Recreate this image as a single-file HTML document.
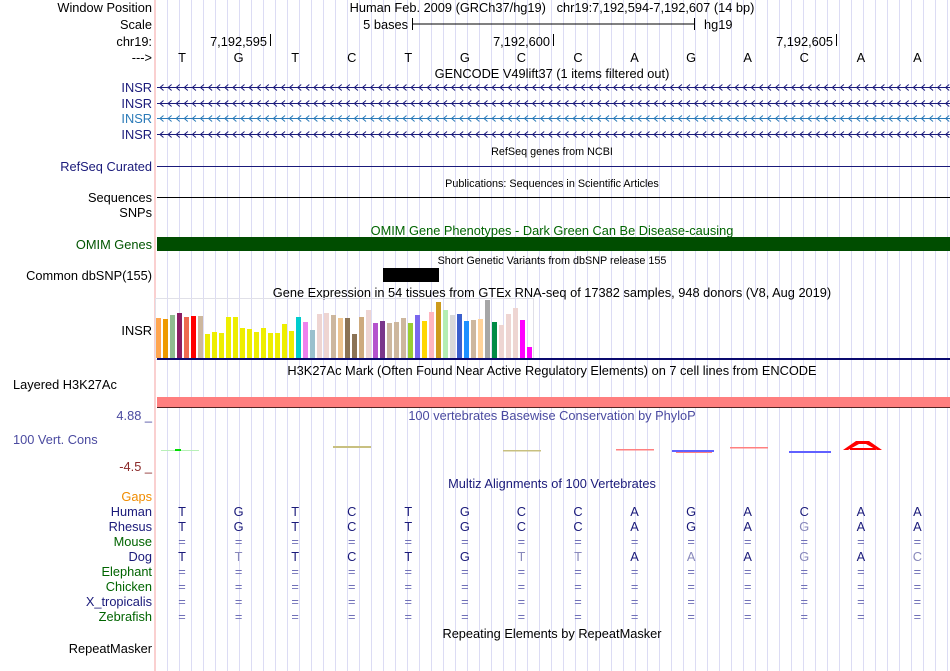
<!DOCTYPE html>
<html><head><meta charset="utf-8">
<style>
html,body{margin:0;padding:0;background:#fff;}
svg{display:block;font-family:"Liberation Sans",Arial,sans-serif;}
</style></head>
<body>
<svg id="s" width="950" height="671" viewBox="0 0 950 671" xmlns="http://www.w3.org/2000/svg">
<g id="grid"></g>
<line x1="155" y1="0" x2="155" y2="671" stroke="#f4a0a0" stroke-width="1"/>
<g font-size="12.8" text-anchor="end" fill="#000">
<text x="152" y="12">Window Position</text>
<text x="152" y="29">Scale</text>
<text x="152" y="46">chr19:</text>
<text x="152" y="62">---&gt;</text>
<text x="152" y="92" fill="#1a1a7a">INSR</text>
<text x="152" y="108" fill="#1a1a7a">INSR</text>
<text x="152" y="123" fill="#2a7ab8">INSR</text>
<text x="152" y="139" fill="#1a1a7a">INSR</text>
<text x="152" y="171" fill="#1a1a7a">RefSeq Curated</text>
<text x="152" y="202">Sequences</text>
<text x="152" y="217">SNPs</text>
<text x="152" y="249" fill="#005500">OMIM Genes</text>
<text x="152" y="280">Common dbSNP(155)</text>
<text x="152" y="335" fill="#000">INSR</text>
<text x="13" y="389" text-anchor="start">Layered H3K27Ac</text>
<text x="152" y="420" fill="#4a4aa0">4.88 _</text>
<text x="13" y="444" text-anchor="start" fill="#4a4aa0">100 Vert. Cons</text>
<text x="152" y="471" fill="#8b2a2a">-4.5 _</text>
<text x="152" y="501" fill="#f08c00">Gaps</text>
<text x="152" y="516" fill="#1a1a7a">Human</text>
<text x="152" y="531" fill="#1a1a7a">Rhesus</text>
<text x="152" y="546" fill="#006400">Mouse</text>
<text x="152" y="561" fill="#1a1a7a">Dog</text>
<text x="152" y="576" fill="#006400">Elephant</text>
<text x="152" y="591" fill="#006400">Chicken</text>
<text x="152" y="606" fill="#1a1a7a">X_tropicalis</text>
<text x="152" y="621" fill="#006400">Zebrafish</text>
<text x="152" y="653">RepeatMasker</text>
</g>
<g font-size="12.8" text-anchor="middle">
<text x="552" y="12">Human Feb. 2009 (GRCh37/hg19)&#160;&#160;&#160;chr19:7,192,594-7,192,607 (14 bp)</text>
<text x="552" y="78">GENCODE V49lift37 (1 items filtered out)</text>
<text x="552" y="155" font-size="10.8">RefSeq genes from NCBI</text>
<text x="552" y="187" font-size="10.8">Publications: Sequences in Scientific Articles</text>
<text x="552" y="235" fill="#006400">OMIM Gene Phenotypes - Dark Green Can Be Disease-causing</text>
<text x="552" y="264" font-size="10.8">Short Genetic Variants from dbSNP release 155</text>
<text x="552" y="297">Gene Expression in 54 tissues from GTEx RNA-seq of 17382 samples, 948 donors (V8, Aug 2019)</text>
<text x="552" y="375">H3K27Ac Mark (Often Found Near Active Regulatory Elements) on 7 cell lines from ENCODE</text>
<text x="552" y="420" fill="#4a4aa0">100 vertebrates Basewise Conservation by PhyloP</text>
<text x="552" y="488" fill="#1a1a7a">Multiz Alignments of 100 Vertebrates</text>
<text x="552" y="638">Repeating Elements by RepeatMasker</text>
</g>
<g>
<text x="408" y="29" font-size="12.8" text-anchor="end">5 bases</text>
<line x1="412" y1="24" x2="695" y2="24" stroke="#000"/>
<line x1="412.5" y1="18" x2="412.5" y2="30" stroke="#000"/>
<line x1="694.5" y1="18" x2="694.5" y2="30" stroke="#000"/>
<text x="704" y="29" font-size="12.8">hg19</text>
</g>
<g font-size="12.8" text-anchor="end">
<text x="267" y="46">7,192,595</text><line x1="270.5" y1="34" x2="270.5" y2="46" stroke="#000"/>
<text x="550" y="46">7,192,600</text><line x1="553.5" y1="34" x2="553.5" y2="46" stroke="#000"/>
<text x="833" y="46">7,192,605</text><line x1="836.5" y1="34" x2="836.5" y2="46" stroke="#000"/>
</g>
<g id="bases" font-size="12.8" text-anchor="middle"></g>
<g id="genes"></g>
<line x1="157" y1="166.5" x2="950" y2="166.5" stroke="#1a1a7a"/>
<line x1="157" y1="197.5" x2="950" y2="197.5" stroke="#000"/>
<rect x="157" y="237" width="793" height="14" fill="#004d00"/>
<rect x="383" y="268" width="56" height="14" fill="#000"/>
<rect x="155.5" y="298.5" width="378" height="61" fill="none" stroke="#e0e0e8"/>
<g id="gtex"></g>
<rect x="157" y="358" width="793" height="2" fill="#0a0a6e"/>
<rect x="157" y="397" width="793" height="10" fill="#ff7f7f"/>
<line x1="157" y1="407.5" x2="950" y2="407.5" stroke="#552222"/>
<g>
<rect x="161" y="450" width="38" height="1" fill="#b8f0b8"/><rect x="175" y="449" width="6" height="2" fill="#00dd00"/>
<rect x="333" y="446" width="38" height="2" fill="#c8c080"/>
<rect x="503" y="450" width="38" height="1.5" fill="#c8c080"/>
<rect x="616" y="449" width="38" height="1.5" fill="#ff8080"/>
<rect x="672" y="450" width="42" height="2" fill="#6060ff"/><rect x="676" y="452" width="36" height="1" fill="#ff8080"/>
<rect x="730" y="447" width="38" height="1.5" fill="#ff8080"/>
<rect x="789" y="451" width="42" height="2" fill="#6060ff"/>
<path d="M843 450 L856 441 L869 441 L882 450 L877 450 L866 444 L859 444 L848 450 Z M850 448 L876 448 L876 450 L850 450 Z" fill="#ff0000"/>
</g>
<g id="multiz" font-size="12.8" text-anchor="middle"></g>
</svg>
<script>
const gtexHeights=[40,39,43,45,41,42,42,24,26,25,41,41,30,29,26,30,25,25,34,27,41,36,28,44,45,43,40,40,24,41,48,35,37,35,36,40,35,43,37,46,56,48,43,44,37,38,39,58,36,33,44,50,38,11];
const gtexColors=["#ffa54f","#ee9a00","#8fbc8f","#8b1c62","#ee6a50","#ff0000","#cdb79e","#eeee00","#eeee00","#eeee00","#eeee00","#eeee00","#eeee00","#eeee00","#eeee00","#eeee00","#eeee00","#eeee00","#eeee00","#eeee00","#00cdcd","#ee82ee","#9ac0cd","#eed5d2","#eed5d2","#cdb79e","#eec591","#8b7355","#8b7355","#cdaa7d","#eed5d2","#b452cd","#7a378b","#cdb79e","#cdb79e","#cdb79e","#9acd32","#7a67ee","#ffd700","#ffb6c1","#cd9b1d","#b4eeb4","#d9d9d9","#3a5fcd","#1e90ff","#cdb79e","#ffd39b","#a6a6a6","#008b45","#eed5d2","#eed5d2","#eed5d2","#ff00ff","#ff00ff"];
const refBases=["T","G","T","C","T","G","C","C","A","G","A","C","A","A"];
const species=["Human","Rhesus","Mouse","Dog","Elephant","Chicken","X_tropicalis","Zebrafish"];
const speciesBases=[
 "TGTCTGCCAGACAA",
 "TGTCTGCCAGAGAA",
 "==============",
 "TTTCTGTTAAAGAC",
 "==============",
 "==============",
 "==============",
 "=============="];
const NS="http://www.w3.org/2000/svg";
function mk(t,a,p){const e=document.createElementNS(NS,t);for(const k in a)e.setAttribute(k,a[k]);p.appendChild(e);return e;}
const baseX=i=>182+i*56.57;
const g=document.getElementById('grid');
for(let x=167.5;x<950;x+=12){const l=mk('line',{x1:x,y1:0,x2:x,y2:671,stroke:'#dcdcf4'},g);

}
const b=document.getElementById('bases');
refBases.forEach((c,i)=>{const t=mk('text',{x:baseX(i),y:62},b);t.textContent=c;

});
const gn=document.getElementById('genes');
[[87,'#1a1a7a'],[103,'#1a1a7a'],[118,'#2a7ab8'],[134,'#1a1a7a']].forEach(([y,c],j)=>{
 let d=`M157 ${y+.5} L950 ${y+.5}`;
 for(let x=160;x<948;x+=8.1)d+=` M${x+3.5} ${y-2.5} L${x} ${y+.5} L${x+3.5} ${y+3.5}`;
 const p=mk('path',{d:d,stroke:c,fill:'none','stroke-width':1},gn);
 
 
});
const gt=document.getElementById('gtex');
const base=358, yScale=1;
gtexHeights.forEach((h,i)=>{const r=mk('rect',{x:156+i*7,y:base-h*yScale,width:5,height:h*yScale,fill:gtexColors[i]},gt);

});
const mz=document.getElementById('multiz');
species.forEach((sp,r)=>{const y=516+r*15;
 [...speciesBases[r]].forEach((c,i)=>{
  let col='#1a1a7a';
  if(c==='=')col='#7070b8';
  else if(r>0&&c!==refBases[i])col='#8888bb';
  const t=mk('text',{x:baseX(i),y:y,fill:col},mz);t.textContent=c;
  
  
 });
});
</script>
</body></html>
